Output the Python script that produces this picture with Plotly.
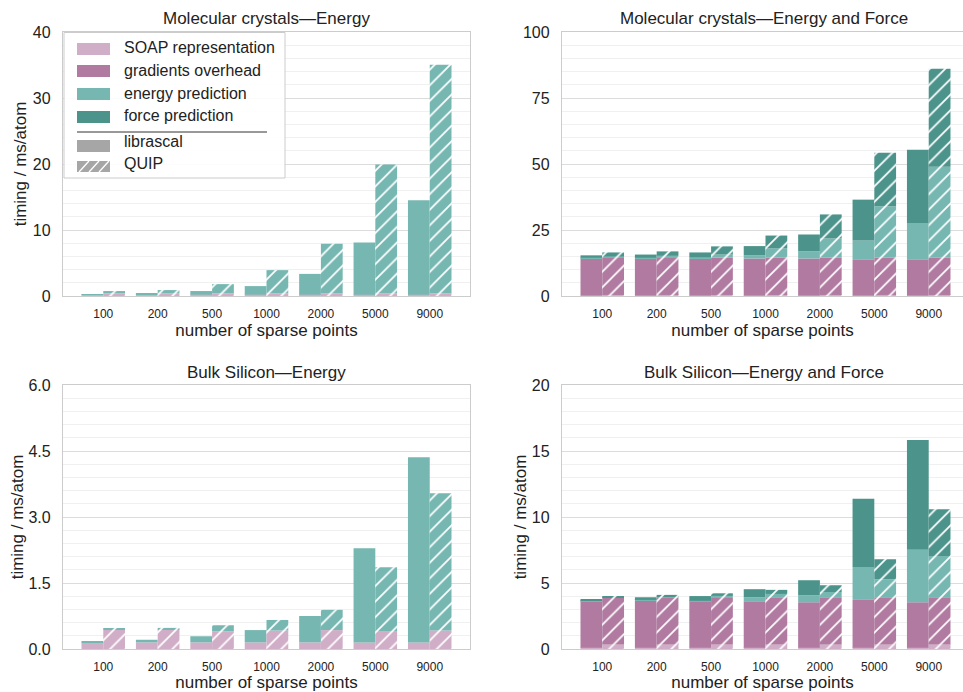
import numpy as np
import plotly.graph_objects as go
from plotly.subplots import make_subplots

# ---------------- data ----------------
categories = ["100", "200", "500", "1000", "2000", "5000", "9000"]

# Molecular crystals - Energy
mc_e_lib_soap = [0.2, 0.2, 0.2, 0.2, 0.2, 0.2, 0.2]
mc_e_lib_energy = [0.1, 0.25, 0.55, 1.3, 3.15, 7.9, 14.3]
mc_e_quip_soap = [0.42, 0.42, 0.42, 0.42, 0.42, 0.42, 0.42]
mc_e_quip_energy = [0.33, 0.48, 1.38, 3.5, 7.48, 19.5, 34.6]

# Molecular crystals - Energy and Force
mc_ef_lib_soap = [0.2, 0.2, 0.2, 0.2, 0.2, 0.2, 0.2]
mc_ef_lib_grad = [14.0, 14.0, 13.9, 14.0, 14.0, 13.7, 13.7]
mc_ef_lib_energy = [0.3, 0.3, 0.6, 1.2, 2.7, 7.1, 13.6]
mc_ef_lib_force = [0.9, 1.2, 1.8, 3.5, 6.4, 15.5, 27.9]
mc_ef_quip_soap = [0.4, 0.4, 0.4, 0.4, 0.4, 0.4, 0.4]
mc_ef_quip_grad = [14.2, 14.2, 14.2, 14.2, 14.2, 14.2, 14.2]
mc_ef_quip_energy = [0.4, 0.6, 1.1, 3.4, 7.2, 19.4, 34.4]
mc_ef_quip_force = [1.5, 1.7, 3.1, 4.9, 9.1, 20.3, 37.1]

# Bulk silicon - Energy
si_e_lib_soap = [0.15, 0.15, 0.15, 0.15, 0.15, 0.15, 0.15]
si_e_lib_energy = [0.02, 0.06, 0.14, 0.28, 0.6, 2.14, 4.21]
si_e_quip_soap = [0.44, 0.44, 0.40, 0.42, 0.43, 0.40, 0.42]
si_e_quip_energy = [0.015, 0.04, 0.14, 0.24, 0.46, 1.46, 3.12]

# Bulk silicon - Energy and Force
si_ef_lib_soap = [0.1, 0.1, 0.1, 0.1, 0.1, 0.1, 0.1]
si_ef_lib_grad = [3.52, 3.54, 3.49, 3.52, 3.44, 3.62, 3.44]
si_ef_lib_energy = [0.06, 0.08, 0.06, 0.30, 0.53, 2.50, 3.97]
si_ef_lib_force = [0.11, 0.20, 0.36, 0.61, 1.14, 5.16, 8.32]
si_ef_quip_soap = [0.35, 0.35, 0.35, 0.35, 0.35, 0.35, 0.35]
si_ef_quip_grad = [3.52, 3.54, 3.52, 3.57, 3.57, 3.57, 3.57]
si_ef_quip_energy = [0.05, 0.05, 0.15, 0.25, 0.40, 1.36, 3.13]
si_ef_quip_force = [0.08, 0.16, 0.20, 0.31, 0.51, 1.52, 3.54]

legend_labels = ["SOAP representation", "gradients overhead", "energy prediction", "force prediction"]
impl_labels = ["librascal", "QUIP"]
subplot_titles = ["Molecular crystals\u2014Energy", "Molecular crystals\u2014Energy and Force",
                  "Bulk Silicon\u2014Energy", "Bulk Silicon\u2014Energy and Force"]

# ---------------- style ----------------
W, H = 963, 692
FONT = "Liberation Sans, Arial, Helvetica, sans-serif"
TXT = "#222222"
COL = {"SOAP representation": "#d1aec7",
       "gradients overhead": "#b07aa1",
       "energy prediction": "#76b7b2",
       "force prediction": "#4c948b"}
GRAY = "#a6a6a6"


def px(x):
    return x / W


def py(y):
    return 1 - y / H


fig = make_subplots(rows=2, cols=2)


def add_stack(row, col, layers, offset, hatched, impl):
    base = np.zeros(len(categories))
    for name, vals in layers:
        v = np.array(vals, dtype=float)
        marker = dict(color=COL[name], line=dict(width=0))
        if hatched:
            marker["pattern"] = dict(shape="/", fgcolor="white", bgcolor=COL[name],
                                     fillmode="overlay", size=11, solidity=0.16, fgopacity=1)
        fig.add_trace(go.Bar(x=categories, y=v, base=base.copy(), width=0.4, offset=offset,
                             marker=marker, name=f"{name} ({impl})", showlegend=False,
                             hovertemplate="%{x}: %{y:.2f}<extra>" + name + " (" + impl + ")</extra>"),
                      row=row, col=col)
        base += v


L = legend_labels
add_stack(1, 1, [(L[0], mc_e_lib_soap), (L[2], mc_e_lib_energy)], -0.4, False, "librascal")
add_stack(1, 1, [(L[0], mc_e_quip_soap), (L[2], mc_e_quip_energy)], 0.0, True, "QUIP")
add_stack(1, 2, [(L[0], mc_ef_lib_soap), (L[1], mc_ef_lib_grad), (L[2], mc_ef_lib_energy),
                 (L[3], mc_ef_lib_force)], -0.4, False, "librascal")
add_stack(1, 2, [(L[0], mc_ef_quip_soap), (L[1], mc_ef_quip_grad), (L[2], mc_ef_quip_energy),
                 (L[3], mc_ef_quip_force)], 0.0, True, "QUIP")
add_stack(2, 1, [(L[0], si_e_lib_soap), (L[2], si_e_lib_energy)], -0.4, False, "librascal")
add_stack(2, 1, [(L[0], si_e_quip_soap), (L[2], si_e_quip_energy)], 0.0, True, "QUIP")
add_stack(2, 2, [(L[0], si_ef_lib_soap), (L[1], si_ef_lib_grad), (L[2], si_ef_lib_energy),
                 (L[3], si_ef_lib_force)], -0.4, False, "librascal")
add_stack(2, 2, [(L[0], si_ef_quip_soap), (L[1], si_ef_quip_grad), (L[2], si_ef_quip_energy),
                 (L[3], si_ef_quip_force)], 0.0, True, "QUIP")

# ---------------- axes ----------------
x_left = [px(63), px(470)]
x_right = [px(562), 1.0]
y_top = [py(296), py(32)]
y_bot = [py(649), py(385)]
xr_left = [-0.74, 6.74]
xr_right = [-0.74, 6.63]

common_x = dict(type="category", showgrid=False, zeroline=False, showline=True,
                linecolor="#cccccc", linewidth=1.3, mirror=True,
                ticks="outside", ticklen=6, tickcolor="rgba(0,0,0,0)",
                tickfont=dict(size=12, color=TXT, family=FONT),
                title=dict(text="number of sparse points", font=dict(size=17, color=TXT, family=FONT),
                           standoff=4),
                automargin=False, fixedrange=True)
common_y = dict(showgrid=True, gridcolor="#dcdcdc", gridwidth=1.2, zeroline=False,
                showline=True, linecolor="#cccccc", linewidth=1.3,
                ticks="outside", ticklen=8, tickcolor="rgba(0,0,0,0)",
                tickfont=dict(size=16, color=TXT, family=FONT),
                automargin=False, fixedrange=True)

yt = dict(text="timing / ms/atom", font=dict(size=17, color=TXT, family=FONT), standoff=1)

fig.update_layout(
    xaxis=dict(common_x, domain=x_left, range=xr_left, anchor="y"),
    xaxis2=dict(common_x, domain=x_right, range=xr_right, anchor="y2"),
    xaxis3=dict(common_x, domain=x_left, range=xr_left, anchor="y3"),
    xaxis4=dict(common_x, domain=x_right, range=xr_right, anchor="y4"),
    yaxis=dict(common_y, domain=y_top, range=[0, 40], dtick=10, tick0=0, mirror=True,
               minor=dict(dtick=2, tick0=0, showgrid=True, gridcolor="#f0f0f0", gridwidth=1),
               title=yt, anchor="x"),
    yaxis2=dict(common_y, domain=y_top, range=[0, 100], dtick=25, tick0=0, mirror=False,
                minor=dict(dtick=5, tick0=0, showgrid=True, gridcolor="#f0f0f0", gridwidth=1),
                anchor="x2"),
    yaxis3=dict(common_y, domain=y_bot, range=[0, 6], dtick=1.5, tick0=0, tickformat=".1f",
                mirror=True,
                minor=dict(dtick=0.3, tick0=0, showgrid=True, gridcolor="#f0f0f0", gridwidth=1),
                title=dict(yt, standoff=0), anchor="x3"),
    yaxis4=dict(common_y, domain=y_bot, range=[0, 20], dtick=5, tick0=0, mirror=False,
                minor=dict(dtick=1, tick0=0, showgrid=True, gridcolor="#f0f0f0", gridwidth=1),
                title=dict(yt, standoff=0), anchor="x4"),
)

# ---------------- titles ----------------
annotations = []
title_pos = [((63 + 470) / 2, 19), ((562 + 966) / 2, 19), ((63 + 470) / 2, 372), ((562 + 966) / 2, 372)]
for t, (cx, cy) in zip(subplot_titles, title_pos):
    annotations.append(dict(text=t, x=px(cx), y=py(cy), xref="paper", yref="paper",
                            xanchor="center", yanchor="middle", showarrow=False,
                            font=dict(size=17, color=TXT, family=FONT)))

# ---------------- legend (drawn manually) ----------------
shapes = []
shapes.append(dict(type="rect", xref="paper", yref="paper", x0=px(64), x1=px(285), y0=py(178), y1=py(32.5),
                   fillcolor="rgba(255,255,255,0.9)", line=dict(color="#cccccc", width=1), layer="above"))
sw_y = [(43, 55), (65, 77), (88, 100), (111, 123)]
txt_y = [48, 70.5, 93, 116]
for name, (a, b), ty in zip(legend_labels, sw_y, txt_y):
    shapes.append(dict(type="rect", xref="paper", yref="paper", x0=px(77), x1=px(110), y0=py(b), y1=py(a),
                       fillcolor=COL[name], line=dict(width=0), layer="above"))
    annotations.append(dict(text=name, x=px(122), y=py(ty), xref="paper", yref="paper",
                            xanchor="left", yanchor="middle", showarrow=False,
                            font=dict(size=16, color=TXT, family=FONT)))
shapes.append(dict(type="line", xref="paper", yref="paper", x0=px(77), x1=px(267), y0=py(132), y1=py(132),
                   line=dict(color="#333333", width=1), layer="above"))
impl_sw = [(140, 152), (161, 172)]
impl_ty = [141, 163]
for k, (lab, (a, b), ty) in enumerate(zip(impl_labels, impl_sw, impl_ty)):
    shapes.append(dict(type="rect", xref="paper", yref="paper", x0=px(77), x1=px(110), y0=py(b), y1=py(a),
                       fillcolor=GRAY, line=dict(width=0), layer="above"))
    if k == 1:
        for x0 in (79, 89, 99):
            shapes.append(dict(type="line", xref="paper", yref="paper", x0=px(x0), x1=px(x0 + 10),
                               y0=py(b), y1=py(a), line=dict(color="white", width=1.3), layer="above"))
    annotations.append(dict(text=lab, x=px(122), y=py(ty), xref="paper", yref="paper",
                            xanchor="left", yanchor="middle", showarrow=False,
                            font=dict(size=16, color=TXT, family=FONT)))

fig.update_layout(
    width=W, height=H,
    margin=dict(l=0, r=0, t=0, b=0),
    paper_bgcolor="white", plot_bgcolor="white",
    barmode="overlay", showlegend=False,
    font=dict(family=FONT, color=TXT),
    annotations=annotations, shapes=shapes,
)

fig.write_html("out.html")
